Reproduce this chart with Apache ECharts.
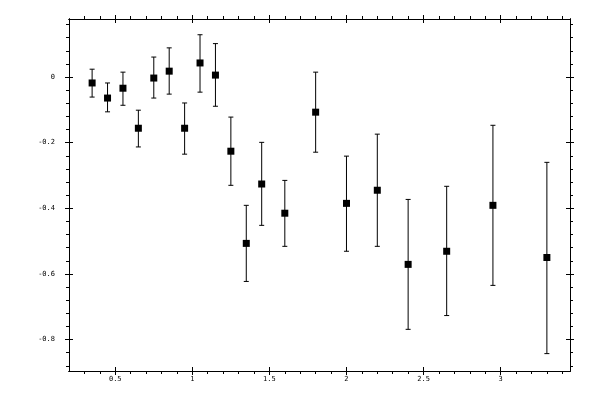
<!DOCTYPE html>
<html>
<head>
<meta charset="UTF-8">
<script src="https://cdn.jsdelivr.net/npm/echarts@6/dist/echarts.min.js"></script>
<style>
  html, body { margin: 0; padding: 0; background: #fff; }
  #main { width: 600px; height: 400px; }
</style>
</head>
<body>
<div id="main"></div>
<script>
// data
var xs     = [0.35, 0.45, 0.55, 0.65, 0.75, 0.85, 0.95, 1.05, 1.15, 1.25, 1.35, 1.45, 1.6, 1.8, 2.0, 2.2, 2.4, 2.65, 2.95, 3.3];
var ys     = [-0.018, -0.064, -0.034, -0.156, -0.003, 0.018, -0.156, 0.043, 0.006, -0.226, -0.507, -0.326, -0.415, -0.107, -0.385, -0.345, -0.571, -0.531, -0.391, -0.550];
var errLow = [-0.061, -0.106, -0.086, -0.213, -0.064, -0.052, -0.235, -0.046, -0.089, -0.330, -0.623, -0.452, -0.516, -0.229, -0.531, -0.516, -0.769, -0.727, -0.635, -0.843];
var errHigh = [0.024, -0.018, 0.015, -0.101, 0.061, 0.089, -0.079, 0.129, 0.102, -0.122, -0.391, -0.199, -0.315, 0.015, -0.241, -0.174, -0.373, -0.333, -0.147, -0.260];

var xMajor = [0.5, 1, 1.5, 2, 2.5, 3];
var xMinor = [0.3, 0.4, 0.6, 0.7, 0.8, 0.9, 1.1, 1.2, 1.3, 1.4, 1.6, 1.7, 1.8, 1.9, 2.1, 2.2, 2.3, 2.4, 2.6, 2.7, 2.8, 2.9, 3.1, 3.2, 3.3, 3.4];
var yMajor = [-0.8, -0.6, -0.4, -0.2, 0];
var yMinor = [-0.88, -0.84, -0.76, -0.72, -0.68, -0.64, -0.56, -0.52, -0.48, -0.44, -0.36, -0.32, -0.28, -0.24, -0.16, -0.12, -0.08, -0.04, 0.04, 0.08, 0.12, 0.16];

var xMin = 0.2, xMax = 3.45;
var yMin = -0.896, yMax = 0.177;

var chart = echarts.init(document.getElementById('main'));

var labelFont = { color: '#000', fontFamily: 'DejaVu Sans Mono', fontSize: 7 };

// one axis = one set of ticks (major in / major out / minor out)
function axis(kind, pos, vals, len, inside, label) {
    var a = {
        type: 'value',
        position: pos,
        min: kind == 'x' ? xMin : yMin,
        max: kind == 'x' ? xMax : yMax,
        axisLine: { show: true, onZero: false, lineStyle: { color: '#000', width: 1 } },
        axisTick: { show: true, inside: inside, length: len, customValues: vals,
                    lineStyle: { color: '#000', width: 1 } },
        axisLabel: { show: false },
        splitLine: { show: false }
    };
    if (label) {
        a.axisLabel = Object.assign({ show: true, customValues: vals,
            margin: kind == 'x' ? 5 : 14,
            formatter: function (v) { return String(+v.toFixed(2)); } }, labelFont);
    }
    return a;
}

var xAxes = [], yAxes = [];
['bottom', 'top'].forEach(function (p) {
    xAxes.push(axis('x', p, xMajor, 4, true, p == 'bottom'));
    xAxes.push(axis('x', p, xMajor, 4, false, false));
    xAxes.push(axis('x', p, xMinor, 3, false, false));
});
['left', 'right'].forEach(function (p) {
    yAxes.push(axis('y', p, yMajor, 4, true, p == 'left'));
    yAxes.push(axis('y', p, yMajor, 4, false, false));
    yAxes.push(axis('y', p, yMinor, 3, false, false));
});

var barData = xs.map(function (x, i) { return [x, errLow[i], errHigh[i]]; });
var pointData = xs.map(function (x, i) { return [x, ys[i]]; });

chart.setOption({
    animation: false,
    grid: { left: 69, right: 30, top: 19, bottom: 29 },
    xAxis: xAxes,
    yAxis: yAxes,
    series: [
        {
            type: 'custom',
            xAxisIndex: 0, yAxisIndex: 0,
            data: barData,
            renderItem: function (params, api) {
                var x = api.value(0);
                var lo = api.coord([x, api.value(1)]);
                var hi = api.coord([x, api.value(2)]);
                var w = 2.5;
                var st = { stroke: '#000', lineWidth: 1 };
                return {
                    type: 'group',
                    children: [
                        { type: 'line', shape: { x1: lo[0], y1: lo[1], x2: hi[0], y2: hi[1] }, style: st },
                        { type: 'line', shape: { x1: hi[0] - w, y1: hi[1], x2: hi[0] + w, y2: hi[1] }, style: st },
                        { type: 'line', shape: { x1: lo[0] - w, y1: lo[1], x2: lo[0] + w, y2: lo[1] }, style: st }
                    ]
                };
            },
            z: 2
        },
        {
            type: 'scatter',
            xAxisIndex: 0, yAxisIndex: 0,
            symbol: 'rect',
            symbolSize: 7,
            itemStyle: { color: '#000', opacity: 1 },
            data: pointData,
            z: 3
        }
    ]
});
</script>
</body>
</html>
